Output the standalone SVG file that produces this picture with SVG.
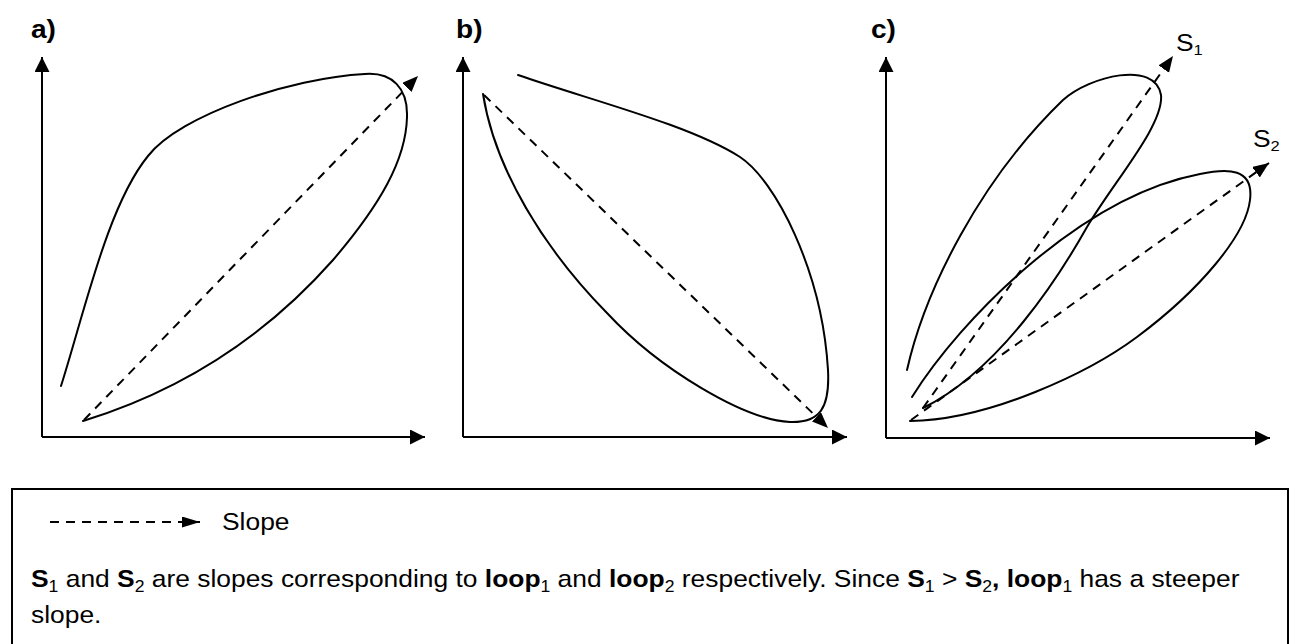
<svg xmlns="http://www.w3.org/2000/svg" width="1292" height="644" viewBox="0 0 1292 644">
<style>
.ax{fill:none;stroke:#000;stroke-width:2;marker-end:url(#axArr)}
.crv{fill:none;stroke:#000;stroke-width:2;stroke-linecap:round;stroke-linejoin:round}
.dsh{fill:none;stroke:#000;stroke-width:2;stroke-dasharray:9 7;marker-end:url(#dArr)}
.lbl{font-family:"Liberation Sans",Arial,sans-serif;font-weight:bold;font-size:26px;fill:#000}
.txt{font-family:"Liberation Sans",Arial,sans-serif;font-size:24px;fill:#000}
.b{font-weight:bold}
</style>
<defs>
<marker id="axArr" markerUnits="userSpaceOnUse" markerWidth="16" markerHeight="16" refX="15" refY="7.5" orient="auto" viewBox="0 0 16 16">
<path d="M0,0 L15,7.5 L0,15 z" fill="#000"/>
</marker>
<marker id="dArr" markerUnits="userSpaceOnUse" markerWidth="18" markerHeight="14" refX="16" refY="6.5" orient="auto" viewBox="0 0 18 14">
<path d="M0,0 L16,6.5 L0,13 z" fill="#000"/>
</marker>
<marker id="lArr" markerUnits="userSpaceOnUse" markerWidth="20" markerHeight="12" refX="18" refY="5.5" orient="auto" viewBox="0 0 20 12">
<path d="M0,0 L18,5.5 L0,11 z" fill="#000"/>
</marker>
</defs>
<rect x="0" y="0" width="1292" height="644" fill="#fff"/>

<g id="panel-a">
<text class="lbl" transform="translate(31,38) scale(1.08,1)">a)</text>
<path class="ax" d="M42,437 L42,57"/>
<path class="ax" d="M42,437 L425,437"/>
<path class="crv" d="M61,386 C85,310 108,205 148,156 C180,115 290,78 365,74 C392,72 408,88 407,117 C406,160 380,205 333,260 C280,320 200,385 83,421"/>
</g>

<g id="panel-b">
<text class="lbl" transform="translate(456,38) scale(1.08,1)">b)</text>
<path class="ax" d="M463,437 L463,57"/>
<path class="ax" d="M463,437 L847,437"/>
<path class="crv" d="M518,75 C590,100 690,125 740,157 C775,180 822,270 828,370 C830,408 820,423 790,422 C745,420 660,370 607,313 C545,250 495,170 483,94"/>
</g>

<g id="panel-c">
<text class="lbl" transform="translate(871,38) scale(1.08,1)">c)</text>
<path class="ax" d="M886,438 L886,57"/>
<path class="ax" d="M886,438 L1270,438"/>
<path class="crv" d="M907,370 C925,290 980,180 1063,100 C1090,76 1155,60 1161,95 C1164,125 1115,180 1087,227 C1060,275 1000,370 923,408"/>
<path class="crv" d="M912,397 C960,320 1080,197 1200,174 C1228,168 1254,168 1250,200 C1246,235 1200,290 1137,337 C1090,372 990,420 910,421"/>
<text class="txt" transform="translate(1176,51) scale(1.1,1)">S<tspan font-size="15" dy="4">1</tspan></text>
<text class="txt" transform="translate(1253,147) scale(1.1,1)">S<tspan font-size="15" dy="4">2</tspan></text>
</g>

<g id="connectors">
<path class="dsh" d="M84,420 L418,76"/>
<path class="dsh" d="M484,95 L828,428"/>
<path class="dsh" d="M923,408 L1173,56"/>
<path class="dsh" d="M911,420 L1269,163"/>
</g>

<g id="legend">
<rect x="12" y="489" width="1276" height="170" fill="none" stroke="#000" stroke-width="2"/>
<path d="M50,522 L200,522" fill="none" stroke="#000" stroke-width="2" stroke-dasharray="9 7" marker-end="url(#lArr)"/>
<text class="txt" transform="translate(222,530) scale(1.1,1)">Slope</text>
<text class="txt" transform="translate(31,587) scale(1.1,1)"><tspan class="b">S</tspan><tspan font-size="16" dy="5">1</tspan><tspan dy="-5"> and </tspan><tspan class="b">S</tspan><tspan font-size="16" dy="5">2</tspan><tspan dy="-5"> are slopes corresponding to </tspan><tspan class="b">loop</tspan><tspan font-size="16" dy="5">1</tspan><tspan dy="-5"> and </tspan><tspan class="b">loop</tspan><tspan font-size="16" dy="5">2</tspan><tspan dy="-5"> respectively. Since </tspan><tspan class="b">S</tspan><tspan font-size="16" dy="5">1</tspan><tspan dy="-5"> &gt; </tspan><tspan class="b">S</tspan><tspan font-size="16" dy="5">2</tspan><tspan class="b" dy="-5">, loop</tspan><tspan font-size="16" dy="5">1</tspan><tspan dy="-5"> has a steeper</tspan></text>
<text class="txt" transform="translate(31,623) scale(1.1,1)">slope.</text>
</g>
</svg>
